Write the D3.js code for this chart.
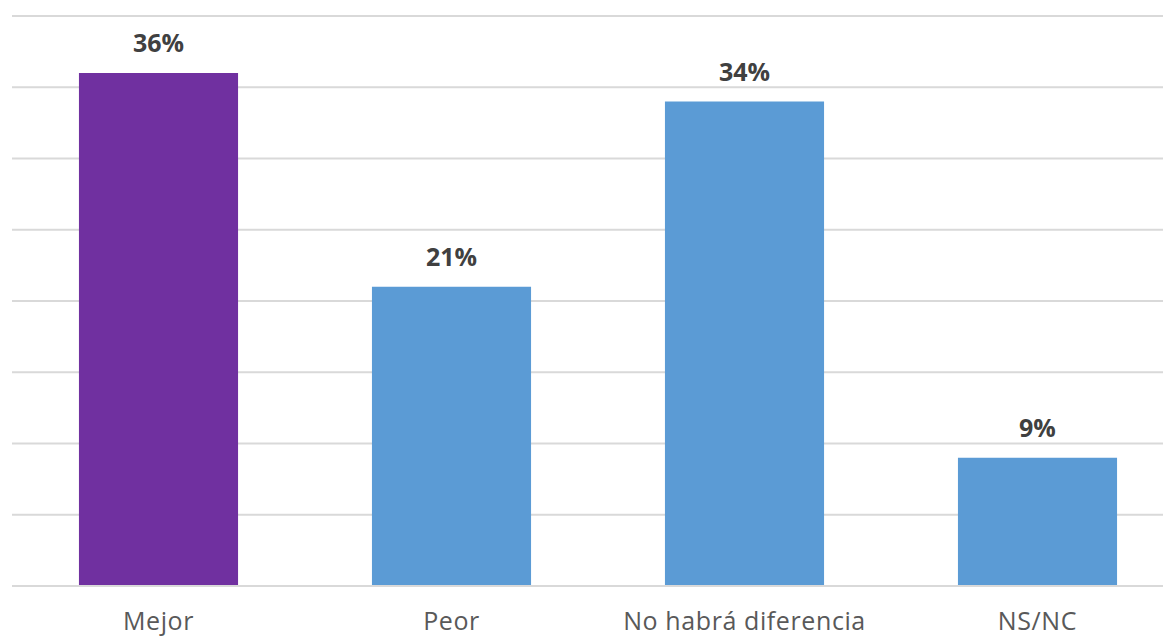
<!DOCTYPE html>
<html>
<head>
<meta charset="utf-8">
<script src="https://cdn.jsdelivr.net/npm/d3@7"></script>
<style>
  body { margin: 0; background: #fff; }
  svg { display: block; }
</style>
</head>
<body>
<div class="chart"></div>
<script>
var width = 1163
var height = 637

// chart values
const categories = ["Mejor", "Peor", "No habrá diferencia", "NS/NC"]
const values = [36, 21, 34, 9]
const barColors = ["#7030A0", "#5B9BD5", "#5B9BD5", "#5B9BD5"]
const gridTicks = [0, 5, 10, 15, 20, 25, 30, 35, 40]

var svg = d3.select('.chart')
  .append('svg')
  .attr("width", width)
  .attr("height", height)

const x = d3.scaleBand()
  .domain(categories)
  .range([12, 1184])
  .paddingInner(0.457)
  .paddingOuter(0.2285)

const y = d3.scaleLinear()
  .domain([0, 40])
  .range([586, 16])

// gridlines
svg.append("g")
  .selectAll("line")
  .data(gridTicks)
  .enter()
  .append("line")
  .attr("x1", 12)
  .attr("x2", width)
  .attr("y1", d => y(d))
  .attr("y2", d => y(d))
  .attr("stroke", "#d9d9d9")
  .attr("stroke-width", 2)

svg.append("g")
  .selectAll("rect")
  .data(values)
  .enter()
  .append("rect")
  .attr("x", (d, i) => x(categories[i]))
  .attr("width", x.bandwidth())
  .attr("y", d => y(d))
  .attr("height", d => y(0) - y(d) - 1)
  .attr("fill", (d, i) => barColors[i])

// value labels
svg.append("g")
  .selectAll("text")
  .data(values)
  .enter()
  .append("text")
  .attr("x", (d, i) => x(categories[i]) + x.bandwidth() / 2)
  .attr("y", d => y(d) - 21)
  .attr("text-anchor", "middle")
  .attr("font-family", "Open Sans, sans-serif")
  .attr("font-weight", "bold")
  .attr("font-size", 25)
  .attr("fill", "#404040")
  .text(d => d + "%")

// category axis
const xAxis = svg.append("g")
  .attr("transform", "translate(0,586)")
  .call(d3.axisBottom(x).tickSize(0).tickPadding(26))
xAxis.select(".domain").remove()
xAxis.selectAll("text")
  .attr("font-family", "Open Sans, sans-serif")
  .attr("font-size", 25)
  .attr("letter-spacing", 0.6)
  .attr("fill", "#595959")
</script>
</body>
</html>
